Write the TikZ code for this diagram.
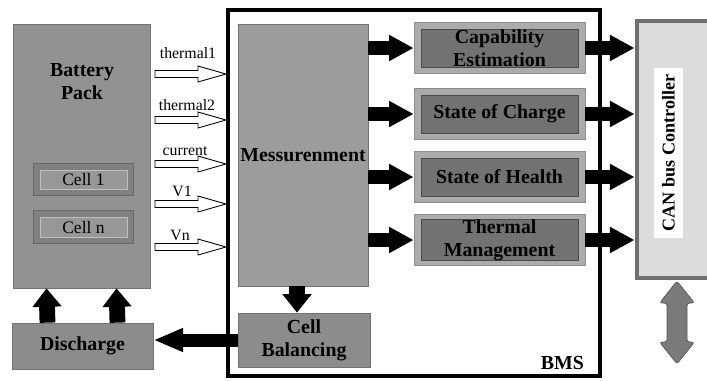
\documentclass[tikz,border=0pt]{standalone}
\usepackage{fontspec}
\setmainfont{Liberation Serif}
\usetikzlibrary{arrows.meta,calc}

\definecolor{packgray}{HTML}{929292}
\definecolor{cellframe}{HTML}{808080}
\definecolor{cellfill}{HTML}{979797}
\definecolor{measgray}{HTML}{9C9C9C}
\definecolor{blockgray}{HTML}{8C8C8C}
\definecolor{funcframe}{HTML}{ABABAB}
\definecolor{funcfill}{HTML}{727272}
\definecolor{canborder}{HTML}{707070}
\definecolor{canfill}{HTML}{DCDCDC}
\definecolor{linkgray}{HTML}{7A7A7A}

\tikzset{
  sz/.style 2 args={minimum width=#1*0.02cm, minimum height=#2*0.02cm},
  bold/.style={font=\bfseries\fontsize{11.3}{13}\selectfont},
  box/.style={draw=black!55, inner sep=0pt, align=center, bold},
  cellout/.style={draw=black!60, fill=cellframe, inner sep=0pt},
  cellin/.style={draw=black!25, fill=cellfill, inner sep=0pt, font=\fontsize{10}{12}\selectfont},
  funcout/.style={draw=black!45, fill=funcframe, inner sep=0pt},
  funcin/.style={draw=black!70, fill=funcfill, inner sep=0pt, align=center, bold},
  fat/.style={line width=8pt, -{Triangle[length=14pt,width=14pt]}},
  fatup/.style={line width=9pt, -{Triangle[length=10.5pt,width=16pt]}},
  hollow/.style={draw=black, fill=white, line width=0.5pt},
  siglabel/.style={font=\fontsize{9}{10}\selectfont, anchor=base}
}

\begin{document}
\begin{tikzpicture}[x=0.02cm,y=-0.02cm]
    \useasboundingbox (0,0) rectangle (707,380);

    \node[box, fill=packgray, sz={137}{264}] (pack) at (81.5,156) {};
    \node[bold, align=center] (packtitle) at (82,82) {Battery\\Pack};
    \node[cellout, sz={100}{32}] (cellAf) at (83,179) {};
    \node[cellin, sz={87}{19}] (cellA) at (83.5,179.5) {Cell 1};
    \node[cellout, sz={100}{33}] (cellBf) at (83,226.5) {};
    \node[cellin, sz={87}{20}] (cellB) at (83.5,227) {Cell n};

    \node[draw, line width=2.3pt, inner sep=0pt, sz={372}{366}] (bms) at (414,193) {};
    \node[bold, anchor=base east] (bmslbl) at (590,369) {BMS};

    \node[box, fill=measgray, sz={130}{262}] (meas) at (303,155) {Messurenment};
    \node[box, fill=blockgray, sz={132}{54}] (bal) at (304,340) {Cell\\Balancing};

    \node[draw=canborder, line width=2.8pt, fill=canfill, inner sep=0pt, sz={75}{257}] (can) at (674.5,149.5) {};
    \node[fill=white, rotate=90, inner sep=0pt, sz={170}{29}, font=\bfseries\fontsize{10.3}{12}\selectfont] (canlbl) at (668.5,153) {CAN bus Controller};

    % bus link below the controller
    \coordinate (linktop) at (677,281);
    \coordinate (linkbot) at (677,364);
    \draw[fill=linkgray, draw=black!65, rounded corners=1.5pt] (linktop) -- ($(linktop)+(17.5,22)$) -- ($(linktop)+(10,22)$)
        -- ($(linkbot)+(10,-22)$) -- ($(linkbot)+(17.5,-22)$) -- (linkbot) -- ($(linkbot)+(-17.5,-22)$) -- ($(linkbot)+(-10,-22)$)
        -- ($(linktop)+(-10,22)$) -- ($(linktop)+(-17.5,22)$) -- cycle;

    \node[box, fill=blockgray, sz={141}{46}] (dis) at (82.5,346) {Discharge};

    \foreach \y/\nm/\txt in {48/cap/{Capability\\Estimation}, 114/soc/{State of Charge}, 177/soh/{State of Health}, 240/thm/{Thermal\\Management}} {
        \node[funcout, sz={171}{51}] (f\nm) at (499.5,\y) {};
        \node[funcin, sz={157}{38}] (\nm) at (499.5,\y) {\txt};
        \draw[fat] (meas.east |- f\nm) -- (f\nm.west);
        \draw[fat] (f\nm.east) -- (can.west |- f\nm);
    }

    \foreach \y/\lx/\ly/\nm/\txt in {74/188/58/ta/thermal1, 120/187/110/tb/thermal2, 164/185/155/cu/current, 204/182/196/va/V1, 247/180/240/vn/Vn} {
        \coordinate (\nm) at (155,\y);
        \node[siglabel] (\nm lbl) at (\lx,\ly) {\txt};
        \draw[hollow] ($(\nm)+(0,-3.5)$) -- ($(\nm -| bms.west)+(-28,-3.5)$) -- ($(\nm -| bms.west)+(-28,-8)$)
            -- (\nm -| bms.west) -- ($(\nm -| bms.west)+(-28,8)$) -- ($(\nm -| bms.west)+(-28,3.5)$) -- ($(\nm)+(0,3.5)$) -- cycle;
    }

    \coordinate (measout) at ($(meas.south)+(-6,0)$);
    \draw[fatup] (measout) -- (measout |- bal.north);
    \draw[line width=7.4pt, -{Triangle[length=17pt,width=12.5pt]}] (bal.west) -- (bal.west -| dis.east);
    \foreach \dx in {-35,35}
        \draw[fatup] ($(dis.north)+(\dx,0)$) -- ($(pack.south)+(\dx,0)$);

\end{tikzpicture}
\end{document}
